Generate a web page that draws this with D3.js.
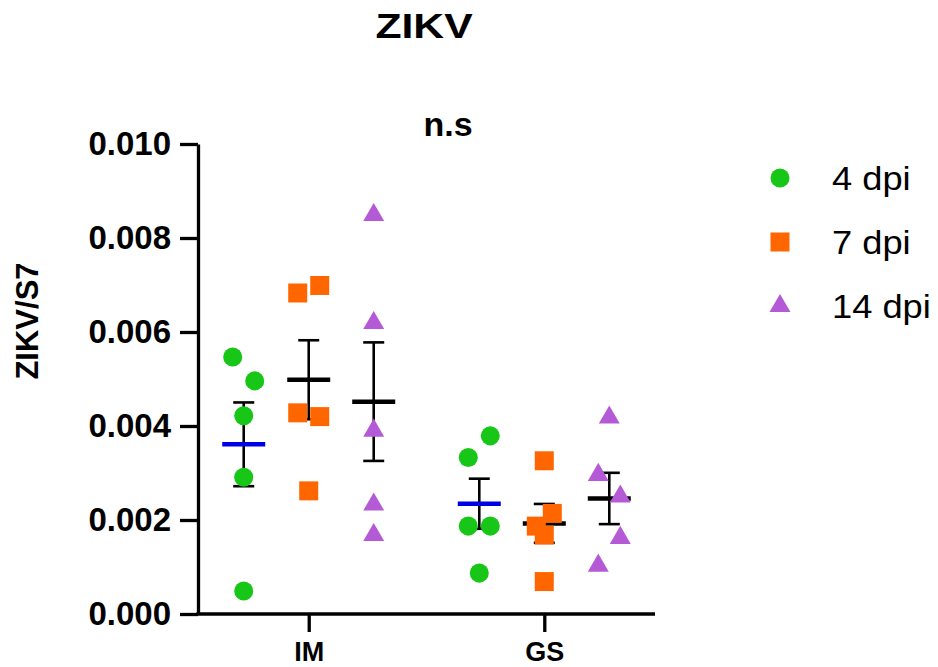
<!DOCTYPE html>
<html>
<head>
<meta charset="utf-8">
<script src="https://cdn.jsdelivr.net/npm/d3@7"></script>
<style>
  body { margin: 0; background: #fff; }
  text { font-family: Arial, "Liberation Sans", sans-serif; }
</style>
</head>
<body>
<div id="chart"></div>
<script>
// values (ZIKV/S7 ratio), kept in entry order
const groups = ['IM', 'GS'];
const series = ['4 dpi', '7 dpi', '14 dpi'];
const yTicks = [0, 0.002, 0.004, 0.006, 0.008, 0.010];

const im4dpi = [0.00547, 0.00496, 0.00422, 0.00291, 0.00049];
const im7dpi = [0.00683, 0.00699, 0.00428, 0.00420, 0.00262];
const im14dpi = [0.00849, 0.00619, 0.00390, 0.00233, 0.00168];
const gs4dpi = [0.00333, 0.00379, 0.00187, 0.00187, 0.00087];
const gs7dpi = [0.00326, 0.00187, 0.00168, 0.00214, 0.00069];
const gs14dpi = [0.00418, 0.00296, 0.00250, 0.00103, 0.00162];

const colors = ['#17c617', '#ff6600', '#b55ad6'];
const meanColors = ['#0000e6', '#000', '#000'];

const cells = [
    { group: 'IM', s: '4 dpi', values: im4dpi },
    { group: 'IM', s: '7 dpi', values: im7dpi },
    { group: 'IM', s: '14 dpi', values: im14dpi },
    { group: 'GS', s: '4 dpi', values: gs4dpi },
    { group: 'GS', s: '7 dpi', values: gs7dpi },
    { group: 'GS', s: '14 dpi', values: gs14dpi }
];

const W = 938, H = 667;
const svg = d3.select('#chart').append('svg')
    .attr('width', W)
    .attr('height', H);

// scales
const y = d3.scaleLinear().domain([0, 0.010]).range([614, 144]);
const x = d3.scalePoint().domain(groups).range([198, 655]).padding(0.47);
const x1 = d3.scaleBand().domain(series).range([-97.5, 97.5]);
const color = d3.scaleOrdinal().domain(series).range(colors);
const meanColor = d3.scaleOrdinal().domain(series).range(meanColors);
const shape = d3.scaleOrdinal().domain(series)
    .range([d3.symbolCircle, d3.symbolSquare, d3.symbolTriangle]);
const shapeSize = d3.scaleOrdinal().domain(series).range([285, 361, 190]);

const colX = d => x(d.group) + x1(d.s) + x1.bandwidth() / 2;

// spread points that sit close together (within 30px), left to right in entry order
function spread(values) {
    const items = values.map((v, i) => ({ v, i })).sort((a, b) => b.v - a.v);
    const out = [];
    let cluster = [];
    const flush = () => {
        const n = cluster.length;
        const half = n > 2 ? 8 : 11;
        cluster.sort((a, b) => a.i - b.i).forEach((d, k) => {
            out.push({ v: d.v, dx: n > 1 ? -half + 2 * half * k / (n - 1) : 0 });
        });
        cluster = [];
    };
    items.forEach(d => {
        if (cluster.length && y(d.v) - y(cluster[cluster.length - 1].v) > 30) flush();
        cluster.push(d);
    });
    flush();
    return out;
}

cells.forEach(c => {
    c.mean = d3.mean(c.values);
    c.sem = d3.deviation(c.values) / Math.sqrt(c.values.length);
});

// axes
const yAxis = svg.append('g')
    .attr('transform', 'translate(198,0)')
    .call(d3.axisLeft(y).tickValues(yTicks).tickFormat(d3.format('.3f'))
        .tickSize(18).tickSizeOuter(0).tickPadding(9));
yAxis.select('.domain').attr('stroke-width', 3.3).attr('stroke', '#000');
yAxis.selectAll('.tick line').attr('stroke-width', 3.3).attr('stroke', '#000');
yAxis.selectAll('.tick text')
    .attr('font-size', '33px')
    .attr('font-weight', 'bold')
    .attr('fill', '#000')
    .attr('font-family', 'Arial, "Liberation Sans", sans-serif');

const xAxis = svg.append('g')
    .attr('transform', 'translate(0,614)')
    .call(d3.axisBottom(x).tickSize(18).tickSizeOuter(0).tickPadding(10));
xAxis.select('.domain').attr('stroke-width', 3.3).attr('stroke', '#000')
    .attr('d', 'M196.35,0H655');
xAxis.selectAll('.tick line').attr('stroke-width', 3.3).attr('stroke', '#000');
xAxis.selectAll('.tick text')
    .attr('font-size', '27px')
    .attr('font-weight', 'bold')
    .attr('fill', '#000')
    .attr('font-family', 'Arial, "Liberation Sans", sans-serif');

// mean lines and SEM bars (drawn under the points)
const stats = svg.append('g');
cells.forEach(c => {
    const cx = colX(c);
    stats.append('line')
        .attr('x1', cx).attr('x2', cx)
        .attr('y1', y(c.mean + c.sem)).attr('y2', y(c.mean - c.sem))
        .attr('stroke', '#000').attr('stroke-width', 2.6);
    [c.mean + c.sem, c.mean - c.sem].forEach(v => {
        stats.append('line')
            .attr('x1', cx - 10.5).attr('x2', cx + 10.5)
            .attr('y1', y(v)).attr('y2', y(v))
            .attr('stroke', '#000').attr('stroke-width', 2.6);
    });
    stats.append('line')
        .attr('x1', cx - 21.5).attr('x2', cx + 21.5)
        .attr('y1', y(c.mean)).attr('y2', y(c.mean))
        .attr('stroke', meanColor(c.s)).attr('stroke-width', 4.5);
});

// points
const pts = svg.append('g');
cells.forEach(c => {
    const cx = colX(c);
    pts.selectAll(null)
        .data(spread(c.values))
        .enter()
        .append('path')
        .attr('d', d3.symbol().type(shape(c.s)).size(shapeSize(c.s)))
        .attr('transform', d => `translate(${cx + d.dx},${y(d.v)})`)
        .attr('fill', color(c.s));
});

// titles
svg.append('text')
    .attr('transform', 'translate(424,38) scale(1.22,1)')
    .attr('text-anchor', 'middle')
    .attr('font-size', '35px')
    .attr('font-weight', 'bold')
    .text('ZIKV');

svg.append('text')
    .attr('x', 448).attr('y', 136)
    .attr('text-anchor', 'middle')
    .attr('font-size', '34px')
    .attr('font-weight', 'bold')
    .text('n.s');

svg.append('text')
    .attr('transform', 'translate(38,321) rotate(-90)')
    .attr('text-anchor', 'middle')
    .attr('font-size', '31px')
    .attr('font-weight', 'bold')
    .text('ZIKV/S7');

// legend
const legend = svg.append('g').attr('transform', 'translate(780,178)');
const items = legend.selectAll('.legend-item')
    .data(series)
    .enter()
    .append('g')
    .attr('class', 'legend-item')
    .attr('transform', (d, i) => `translate(0,${i * 64})`);

items.append('path')
    .attr('d', d => d3.symbol().type(shape(d)).size(shapeSize(d))())
    .attr('fill', d => color(d));

items.append('text')
    .attr('transform', 'translate(52,12) scale(1.1,1)')
    .attr('font-size', '33px')
    .attr('fill', '#000')
    .text(d => d);
</script>
</body>
</html>
